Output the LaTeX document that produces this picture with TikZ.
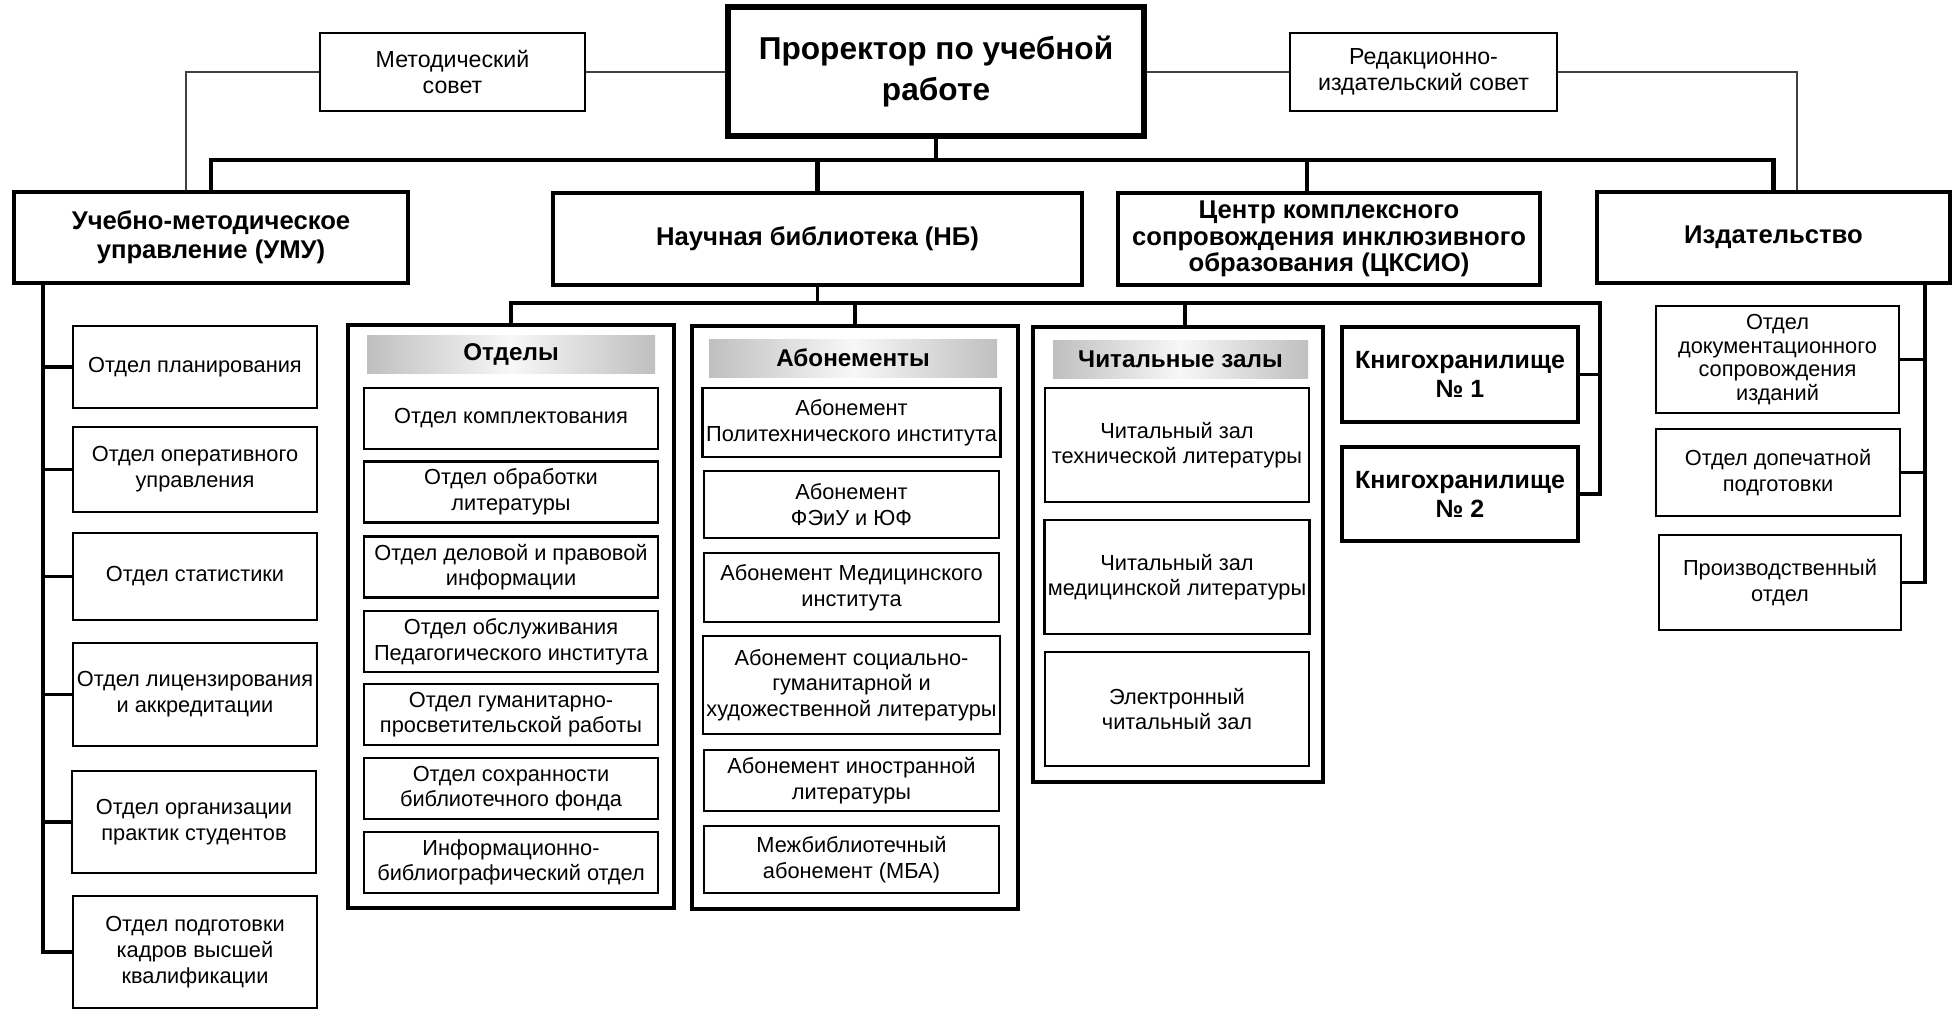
\documentclass[tikz,border=0pt]{standalone}
\usepackage{fontspec}
\setmainfont{Liberation Sans}
\begin{document}
\begin{tikzpicture}[x=0.1mm, y=-0.1mm,
        chief/.style={draw, line width=1.5pt, align=center, inner sep=1pt, font=\fontsize{9}{11.5}\selectfont\bfseries},
        dept/.style={draw, line width=1.1pt, align=center, inner sep=1pt, font=\fontsize{7.3}{8.3}\selectfont\bfseries},
        council/.style={draw, line width=0.7pt, align=center, inner sep=1pt, font=\fontsize{6.6}{7.4}\selectfont},
        group/.style={draw, line width=0.9pt, inner sep=0pt},
        hdr/.style={left color=black!25, right color=black!25, middle color=black!3, inner sep=0pt, font=\fontsize{6.9}{8}\selectfont\bfseries},
        unit/.style={draw, line width=0.7pt, align=center, inner sep=1pt, font=\fontsize{6.2}{7.3}\selectfont},
        bus/.style={line width=1.4pt},
        spine/.style={line width=1.1pt},
        mid/.style={line width=0.9pt},
        link/.style={line width=0.45pt, black!75}]
        \useasboundingbox (0,0) rectangle (1952,1011);

        \node[chief, minimum width=41.6mm, minimum height=12.9mm] (prorector) at (936,71.5) {Проректор по учебной\\работе};
        \node[council, minimum width=26.5mm, minimum height=7.8mm] (metod) at (452.5,72) {Методический\\совет};
        \node[council, minimum width=26.7mm, minimum height=7.8mm] (redak) at (1423.5,72) {Редакционно-\\издательский совет};

        \node[dept, minimum width=39.4mm, minimum height=9.1mm] (umu) at (211,237.5) {Учебно-методическое\\управление (УМУ)};
        \node[dept, minimum width=52.9mm, minimum height=9.2mm] (nb) at (817.5,239) {Научная библиотека (НБ)};
        \node[dept, minimum width=42.2mm, minimum height=9.2mm, font=\fontsize{7.3}{7.5}\selectfont\bfseries] (cksio) at (1329,239) {Центр комплексного\\сопровождения инклюзивного\\образования (ЦКСИО)};
        \node[dept, minimum width=35.3mm, minimum height=9.1mm] (izdat) at (1773.5,237.5) {Издательство};

        \node[unit, minimum width=24.4mm, minimum height=8.2mm, font=\fontsize{6.2}{7.4}\selectfont] (plan) at (195,367) {Отдел планирования};
        \node[unit, minimum width=24.4mm, minimum height=8.5mm, font=\fontsize{6.2}{7.4}\selectfont] (oper) at (195,469.5) {Отдел оперативного\\управления};
        \node[unit, minimum width=24.4mm, minimum height=8.7mm, font=\fontsize{6.2}{7.4}\selectfont] (stat) at (195,576.5) {Отдел статистики};
        \node[unit, minimum width=24.4mm, minimum height=10.3mm, font=\fontsize{6.2}{7.4}\selectfont] (lits) at (195,694.5) {Отдел лицензирования\\и аккредитации};
        \node[unit, minimum width=24.4mm, minimum height=10.2mm, font=\fontsize{6.2}{7.4}\selectfont] (org) at (194,822) {Отдел организации\\практик студентов};
        \node[unit, minimum width=24.4mm, minimum height=11.2mm, font=\fontsize{6.2}{7.4}\selectfont] (podg) at (195,952) {Отдел подготовки\\кадров высшей\\квалификации};

        \node[group, minimum width=32.6mm, minimum height=58.3mm] (otdely) at (511,616.5) {};
        \node[hdr, minimum width=28.8mm, minimum height=3.8mm] (otdelyhdr) at (511,354) {Отделы};
        \node[unit, minimum width=29.4mm, minimum height=6.1mm] (komplekt) at (511,418.5) {Отдел комплектования};
        \node[unit, minimum width=29.4mm, minimum height=6.1mm] (obrab) at (511,492) {Отдел обработки\\литературы};
        \node[unit, minimum width=29.4mm, minimum height=6.1mm] (delov) at (511,567) {Отдел деловой и правовой\\информации};
        \node[unit, minimum width=29.4mm, minimum height=6.1mm] (obsluzh) at (511,641.5) {Отдел обслуживания\\Педагогического института};
        \node[unit, minimum width=29.4mm, minimum height=6.1mm] (gumanit) at (511,714.5) {Отдел гуманитарно-\\просветительской работы};
        \node[unit, minimum width=29.4mm, minimum height=6.1mm] (sokhran) at (511,788.5) {Отдел сохранности\\библиотечного фонда};
        \node[unit, minimum width=29.4mm, minimum height=6.1mm] (inform) at (511,862.5) {Информационно-\\библиографический отдел};

        \node[group, minimum width=32.6mm, minimum height=58.3mm] (abon) at (855,617.5) {};
        \node[hdr, minimum width=28.8mm, minimum height=3.8mm] (abonhdr) at (853,358) {Абонементы};
        \node[unit, minimum width=29.5mm, minimum height=6.9mm] (politekh) at (851.5,422.5) {Абонемент\\Политехнического института};
        \node[unit, minimum width=29.5mm, minimum height=6.7mm] (feiu) at (851.5,504.5) {Абонемент\\ФЭиУ и ЮФ};
        \node[unit, minimum width=29.5mm, minimum height=6.9mm] (medinst) at (851.5,587.5) {Абонемент Медицинского\\института};
        \node[unit, minimum width=29.5mm, minimum height=9.8mm] (sots) at (851.5,685) {Абонемент социально-\\гуманитарной и\\художественной литературы};
        \node[unit, minimum width=29.5mm, minimum height=6.1mm] (inostr) at (851.5,780.5) {Абонемент иностранной\\литературы};
        \node[unit, minimum width=29.5mm, minimum height=6.7mm] (mba) at (851.5,859.5) {Межбиблиотечный\\абонемент (МБА)};

        \node[group, minimum width=29mm, minimum height=45.5mm] (chit) at (1178,554.5) {};
        \node[hdr, minimum width=25.5mm, minimum height=3.8mm] (chithdr) at (1180.5,359) {Читальные залы};
        \node[unit, minimum width=26.4mm, minimum height=11.4mm] (techlit) at (1177,445) {Читальный зал\\технической литературы};
        \node[unit, minimum width=26.4mm, minimum height=11.4mm] (medlit) at (1177,577) {Читальный зал\\медицинской литературы};
        \node[unit, minimum width=26.4mm, minimum height=11.4mm] (electr) at (1177,709) {Электронный\\читальный зал};

        \node[dept, line width=0.9pt, minimum width=23.6mm, minimum height=9.5mm, font=\fontsize{7.1}{8.2}\selectfont\bfseries] (k1) at (1460,374.5) {Книгохранилище\\№ 1};
        \node[dept, line width=0.9pt, minimum width=23.6mm, minimum height=9.4mm, font=\fontsize{7.1}{8.2}\selectfont\bfseries] (k2) at (1460,494) {Книгохранилище\\№ 2};

        \node[unit, minimum width=24.3mm, minimum height=10.7mm, font=\fontsize{6.2}{6.8}\selectfont] (dokument) at (1777.5,359.5) {Отдел\\документационного\\сопровождения\\изданий};
        \node[unit, minimum width=24.4mm, minimum height=8.7mm, font=\fontsize{6.2}{7.2}\selectfont] (dopech) at (1778,472.5) {Отдел допечатной\\подготовки};
        \node[unit, minimum width=24.2mm, minimum height=9.5mm, font=\fontsize{6.2}{7.2}\selectfont] (proizv) at (1780,582.5) {Производственный\\отдел};

        \coordinate (bus) at (936,160);
        \draw[bus] (prorector.south) -- (bus);
        \draw[bus] (umu.north) |- (bus) -| (izdat.north);
        \draw[bus] (nb.north) -- (nb.north |- bus);
        \draw[bus] ([xshift=-2.2mm]cksio.north) -- ([xshift=-2.2mm]cksio.north |- bus);

        \draw[link] (metod.west) -| ([xshift=-2.5mm]umu.north);
        \draw[link] (metod.east) -- (metod.east -| prorector.west);
        \draw[link] (redak.west) -- (redak.west -| prorector.east);
        \draw[link] (redak.east) -| ([xshift=2.35mm]izdat.north);

        \coordinate (kbus) at (1600,303);
        \draw[mid] (nb.south) -- (nb.south |- kbus);
        \draw[mid] (otdely.north) |- (kbus) |- (k2.east);
        \draw[mid] (k1.east) -- (k1.east -| kbus);
        \draw[mid] (abon.north) -- (abon.north |- kbus);
        \draw[mid] ([xshift=0.7mm]chit.north) -- ([xshift=0.7mm]chit.north |- kbus);

        \coordinate (umuline) at (43,283);
        \draw[spine] (umuline) |- (podg.west);
        \draw[spine] (plan.west) -- (plan.west -| umuline);
        \draw[spine] (oper.west) -- (oper.west -| umuline);
        \draw[spine] (stat.west) -- (stat.west -| umuline);
        \draw[spine] (lits.west) -- (lits.west -| umuline);
        \draw[spine] (org.west) -- (org.west -| umuline);

        \coordinate (izline) at (1925,283);
        \draw[spine] (izline) |- (proizv.east);
        \draw[spine] (dokument.east) -- (dokument.east -| izline);
        \draw[spine] (dopech.east) -- (dopech.east -| izline);
    \end{tikzpicture}
\end{document}
